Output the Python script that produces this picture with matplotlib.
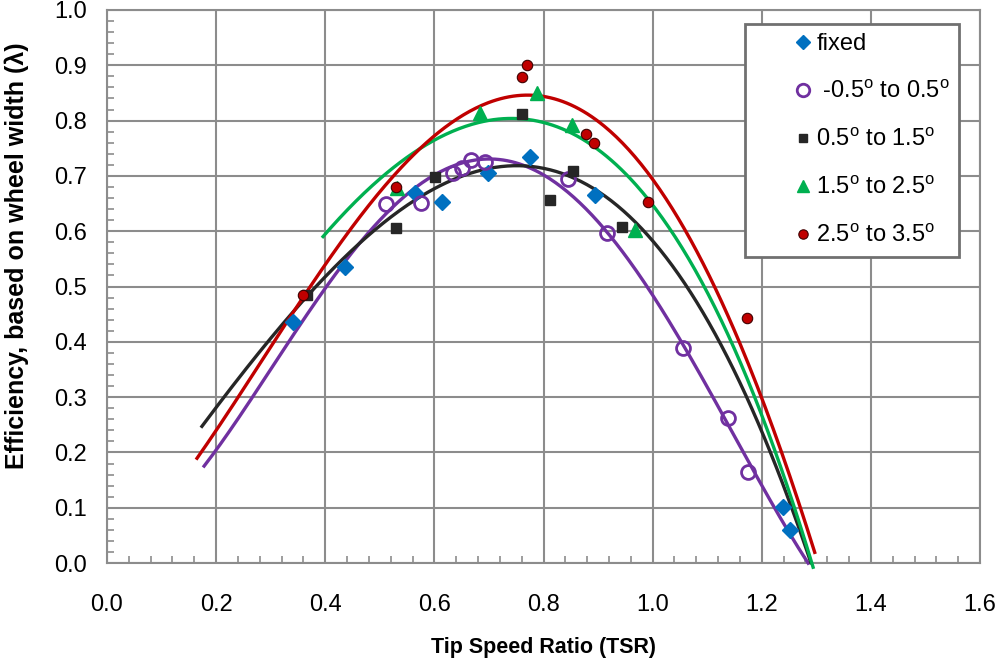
import numpy as np
import matplotlib
matplotlib.use("Agg")
import matplotlib.pyplot as plt
from matplotlib.ticker import MultipleLocator, FormatStrFormatter

plt.rcParams['font.family'] = ['Liberation Sans', 'DejaVu Sans']
plt.rcParams['mathtext.fontset'] = 'custom'
plt.rcParams['mathtext.rm'] = 'Liberation Sans'

# ---- measured points ----
fixed_x = [0.341, 0.436, 0.565, 0.614, 0.698, 0.775, 0.894, 1.239, 1.252]
fixed_y = [0.436, 0.535, 0.669, 0.653, 0.705, 0.734, 0.665, 0.101, 0.060]

p05_x = [0.511, 0.575, 0.634, 0.651, 0.667, 0.693, 0.845, 0.916, 1.056, 1.138, 1.175]
p05_y = [0.649, 0.651, 0.705, 0.714, 0.729, 0.725, 0.694, 0.597, 0.389, 0.262, 0.165]

p15_x = [0.366, 0.530, 0.601, 0.761, 0.812, 0.854, 0.944]
p15_y = [0.485, 0.606, 0.698, 0.812, 0.656, 0.709, 0.608]

p25_x = [0.531, 0.684, 0.788, 0.852, 0.968]
p25_y = [0.678, 0.813, 0.849, 0.792, 0.602]

p35_x = [0.360, 0.530, 0.761, 0.770, 0.878, 0.893, 0.992, 1.173]
p35_y = [0.485, 0.680, 0.879, 0.901, 0.776, 0.759, 0.653, 0.443]

# ---- trend lines ----
t05_x = [0.178, 0.2, 0.3, 0.4, 0.5, 0.6, 0.684, 0.8, 0.9, 1.0, 1.1, 1.2, 1.285]
t05_y = [0.174, 0.213, 0.336, 0.494, 0.633, 0.705, 0.729, 0.697, 0.611, 0.485, 0.322, 0.145, -0.004]

t15_x = [0.174, 0.2, 0.3, 0.4, 0.5, 0.6, 0.744, 0.8, 0.9, 1.0, 1.1, 1.2, 1.29]
t15_y = [0.240, 0.289, 0.41, 0.512, 0.611, 0.674, 0.722, 0.716, 0.671, 0.58, 0.439, 0.240, 0.0]

t25_x = [0.396, 0.5, 0.6, 0.739, 0.8, 0.9, 1.0, 1.1, 1.2, 1.294]
t25_y = [0.591, 0.693, 0.765, 0.805, 0.796, 0.750, 0.644, 0.488, 0.271, -0.009]

t35_x = [0.165, 0.2, 0.3, 0.4, 0.5, 0.6, 0.7, 0.757, 0.8, 0.9, 1.0, 1.1, 1.2, 1.297]
t35_y = [0.192, 0.244, 0.373, 0.548, 0.669, 0.788, 0.835, 0.843, 0.832, 0.785, 0.711, 0.526, 0.298, 0.018]

labels = ['fixed', r' -0.5$^{\rm o}$ to 0.5$^{\rm o}$', r'0.5$^{\rm o}$ to 1.5$^{\rm o}$',
          r'1.5$^{\rm o}$ to 2.5$^{\rm o}$', r'2.5$^{\rm o}$ to 3.5$^{\rm o}$']

fig = plt.figure(figsize=(9.96, 6.64), dpi=100)
ax = fig.add_axes([0.1074, 0.152, 0.8766, 0.833])

def trend(tx, ty, color, deg=4):
    c = np.polyfit(tx, ty, deg)
    xs = np.linspace(min(tx), max(tx), 300)
    ax.plot(xs, np.polyval(c, xs), color=color, lw=2.4, clip_on=False, zorder=3)

trend(t05_x, t05_y, '#7030A0')
trend(t15_x, t15_y, '#262626')
trend(t25_x, t25_y, '#00B050')
trend(t35_x, t35_y, '#C00000')

ax.plot(fixed_x, fixed_y, 'D', ms=8, color='#0070C0', mec='#0070C0', label=labels[0], zorder=4)
ax.plot(p05_x, p05_y, 'o', ms=10, mfc='none', mec='#7030A0', mew=2, label=labels[1], zorder=4)
ax.plot(p15_x, p15_y, 's', ms=7, color='#262626', label=labels[2], zorder=4)
ax.plot(p25_x, p25_y, '^', ms=10, color='#00B050', label=labels[3], zorder=4)
ax.plot(p35_x, p35_y, 'o', ms=7.5, color='#C00000', mec='#400000', mew=0.8, label=labels[4], zorder=4)

ax.set_xlim(0, 1.6)
ax.set_ylim(0, 1.0)
ax.xaxis.set_major_locator(MultipleLocator(0.2))
ax.yaxis.set_major_locator(MultipleLocator(0.1))
ax.xaxis.set_minor_locator(MultipleLocator(0.04))
ax.yaxis.set_minor_locator(MultipleLocator(0.02))
ax.xaxis.set_major_formatter(FormatStrFormatter('%.1f'))
ax.yaxis.set_major_formatter(FormatStrFormatter('%.1f'))
ax.grid(True, which='major', color='#8c8c8c', lw=1.5)
ax.set_axisbelow(True)
for s in ax.spines.values():
    s.set_color('#8c8c8c')
    s.set_linewidth(1.5)
ax.tick_params(which='both', direction='in', color='#8c8c8c', labelsize=17, width=1.2)
ax.tick_params(which='major', length=0)
ax.tick_params(axis='x', which='major', pad=22.5)
ax.tick_params(axis='y', which='major', pad=14.4)
ax.tick_params(which='minor', length=5)

ax.set_xlabel('Tip Speed Ratio (TSR)', fontsize=15.5, fontweight='bold')
ax.xaxis.label.set_va('center')
ax.xaxis.set_label_coords(0.5, -0.152)

ax.set_ylabel('Efficiency, based on wheel width (λ)', fontsize=18, fontweight='bold')
ax.yaxis.label.set_va('center')
ax.yaxis.set_label_coords(-0.103, 0.556)

leg = ax.legend(loc='upper right', bbox_to_anchor=(0.9764, 0.9747), fontsize=17, frameon=True,
                fancybox=False, labelspacing=1.06, handlelength=4.12, handletextpad=-1.51,
                borderpad=0.4, borderaxespad=0, numpoints=1, markerscale=0.9)
leg.get_frame().set_edgecolor('#707070')
leg.get_frame().set_linewidth(2)
leg.get_frame().set_alpha(1)

fig.savefig('out.png', dpi=100)
